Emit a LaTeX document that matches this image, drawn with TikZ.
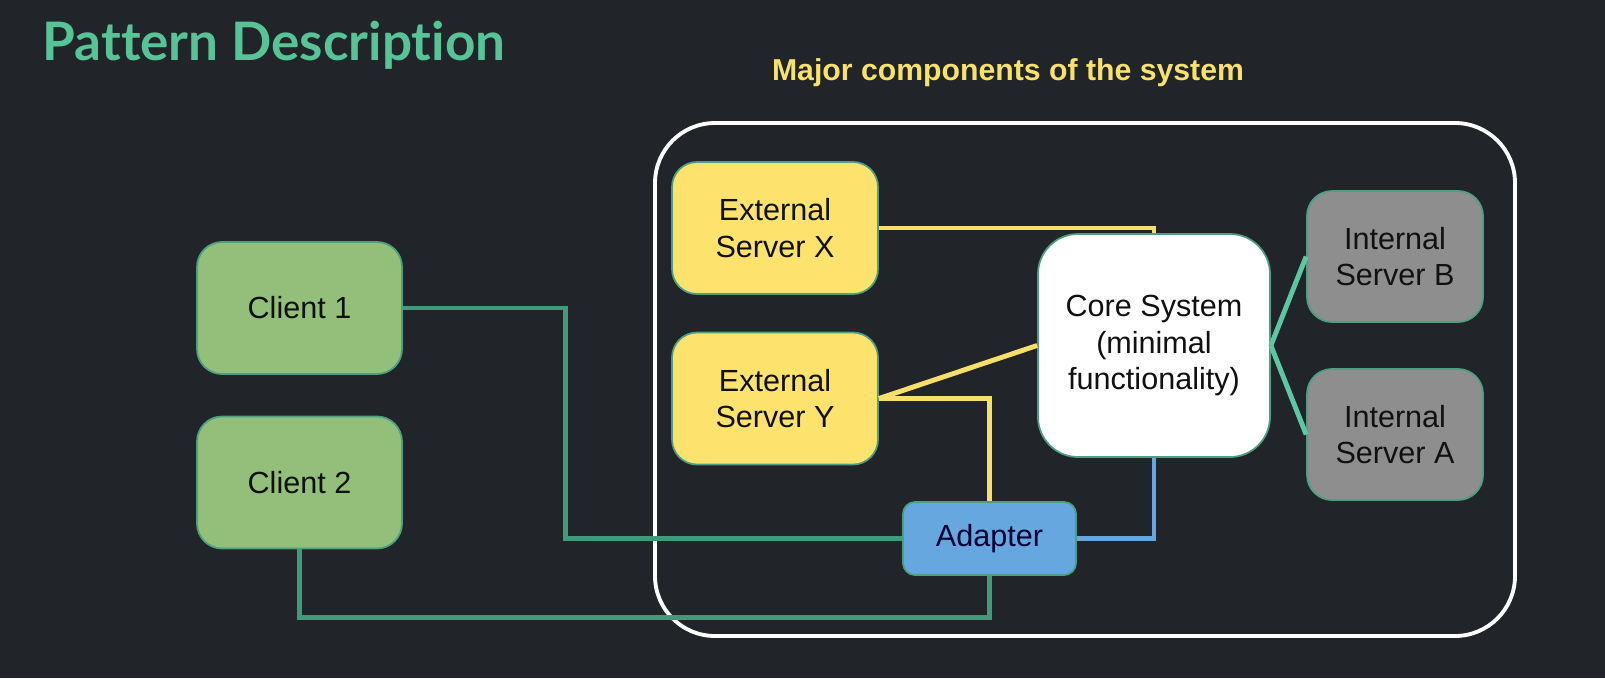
\documentclass[tikz,border=0pt]{standalone}
\usepackage{fontspec}
\setmainfont{Liberation Sans}
\newfontfamily\titlefont[Ligatures=NoCommon]{Lato}
\usepackage{tikz}
\usepgflibrary{shapes}
\definecolor{bg}{HTML}{212428}
\definecolor{ttl}{HTML}{57C498}
\definecolor{sub}{HTML}{F8E26C}
\definecolor{clientfill}{HTML}{93BF7B}
\definecolor{extfill}{HTML}{FDE36E}
\definecolor{intfill}{HTML}{8E8E8E}
\definecolor{adfill}{HTML}{66A7E0}
\definecolor{edge}{HTML}{4C9F80}
\definecolor{glink}{HTML}{3F9B79}
\definecolor{ylink}{HTML}{F6DF6A}
\definecolor{blink}{HTML}{66A7E0}
\definecolor{tlink}{HTML}{5BC8A2}
\definecolor{ink}{HTML}{111111}

\begin{document}
\begin{tikzpicture}[
      box/.style={draw=edge, line width=0.5pt, inner sep=0pt, align=center, text=ink,
            font=\fontsize{8.7}{10.3}\selectfont},
      client/.style={box, fill=clientfill, rounded corners=0.25cm, minimum width=2.05cm, minimum height=1.32cm},
      ext/.style={box, fill=extfill, rounded corners=0.25cm, minimum width=2.06cm, minimum height=1.32cm},
      int/.style={box, fill=intfill, rounded corners=0.25cm, minimum width=1.76cm, minimum height=1.31cm},
      link/.style={line width=1.4pt}]
      \fill[bg] (0,0) rectangle (16.05,-6.78);
      \useasboundingbox (0,0) rectangle (16.05,-6.78);
      \node[anchor=base west, inner sep=0pt, text=ttl, font=\titlefont\bfseries\fontsize{15.1}{18}\selectfont] (title) at (0.42,-0.60){Pattern Description};
      \node[anchor=base, inner sep=0pt, text=sub, font=\bfseries\fontsize{8.6}{10}\selectfont] (major) at (10.08,-0.80){Major components of the system};
      \draw[white, line width=1.1pt, rounded corners=0.6cm] (6.55,-1.23) rectangle (15.15,-6.36);
      \node[client] (c1) at (2.995,-3.08){Client 1};
      \node[client] (c2) at (2.995,-4.825){Client 2};
      \node[ext] (sx) at (7.75,-2.28){External\\Server X};
      \node[ext] (sy) at (7.75,-3.985){External\\Server Y};
      \node[box, fill=white, rounded corners=0.4cm, minimum width=2.32cm, minimum height=2.23cm] (core) at (11.54,-3.455){Core System\\(minimal\\functionality)};
      \node[int] (ib) at (13.95,-2.565){Internal\\Server B};
      \node[int] (ia) at (13.95,-4.345){Internal\\Server A};
      \node[box, fill=adfill, text=black!80!blue, rounded corners=0.12cm, minimum width=1.73cm, minimum height=0.73cm] (ad) at (9.895,-5.385){Adapter};
      \draw[link, glink] (c1.east) -- ++(1.63,0) |- (ad.west);
      \draw[link, glink] (c2.south) -- ++(0,-0.68) -| (ad.south);
      \draw[link, ylink] (sx.east) -| (core.north);
      \draw[link, ylink] (sy.east) -- (core.west);
      \draw[link, ylink] (sy.east) -| (ad.north);
      \draw[link, blink] (ad.east) -| (core.south);
      \draw[link, tlink] (core.east) -- (ib.west);
      \draw[link, tlink] (core.east) -- (ia.west);
   \end{tikzpicture}
\end{document}
